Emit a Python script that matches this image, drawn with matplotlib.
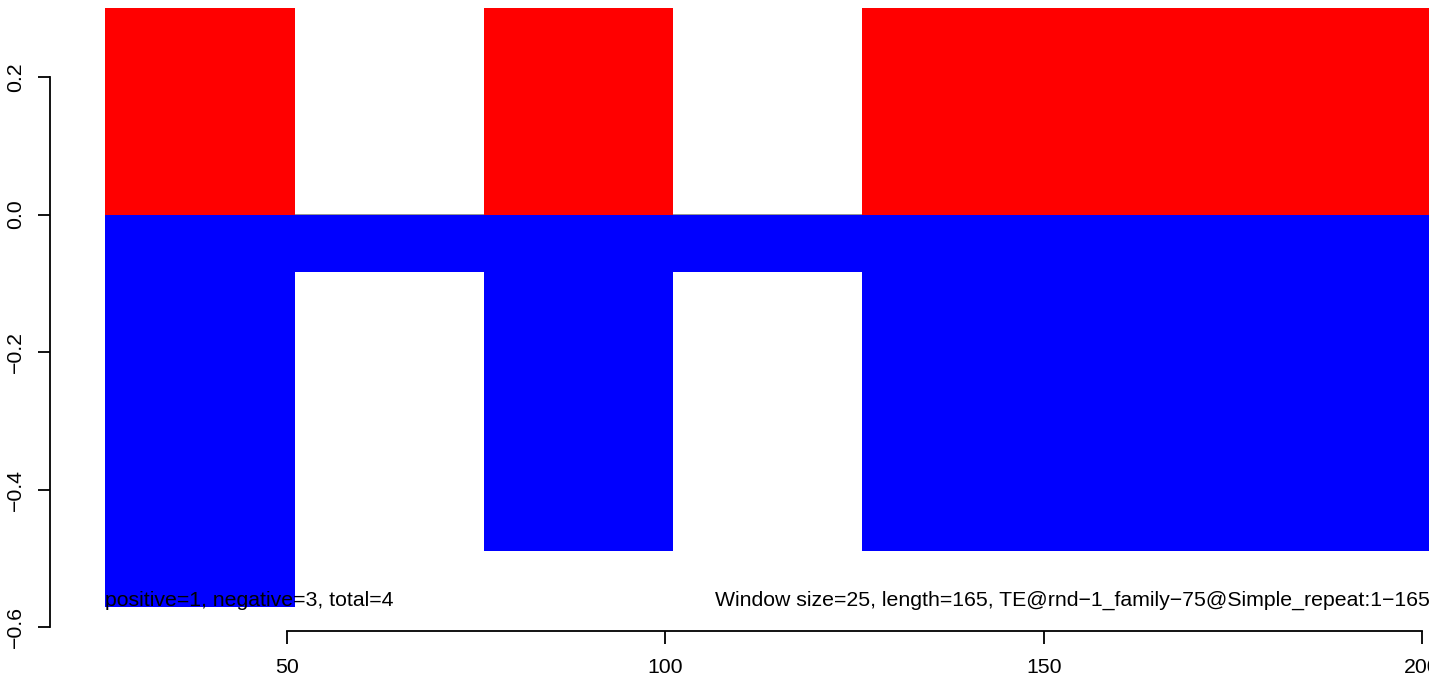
import matplotlib
matplotlib.use("Agg")
import matplotlib.pyplot as plt

plt.rcParams['font.family'] = ['Liberation Sans', 'DejaVu Sans']

# window starts (bp), width of each window
win_start = [26, 51, 76, 101, 126, 151, 176]
win_size = 25
pos_vals = [0.3, 0.0, 0.3, 0.0, 0.3, 0.3, 0.3]
neg_vals = [-0.57, -0.083, -0.489, -0.083, -0.489, -0.489, -0.489]

x_ticks = [50, 100, 150, 200]
y_ticks = [-0.6, -0.4, -0.2, 0.0, 0.2]

left_txt = "positive=1, negative=3, total=4"
right_txt = "Window size=25, length=165, TE@rnd\u22121_family\u221275@Simple_repeat:1\u2212165"

fig = plt.figure(figsize=(14.29, 6.76), dpi=100)
ax = fig.add_axes([0, 0, 1, 1])
ax.set_xlim(12.07, 200.93)
ax.set_ylim(-0.671, 0.312)

ax.hlines(0, win_start[0], win_start[-1] + win_size, color='gray', lw=1.2, zorder=1)
ax.bar(win_start, pos_vals, width=win_size, align='edge', color='red', lw=0, zorder=2)
ax.bar(win_start, neg_vals, width=win_size, align='edge', color='blue', lw=0, zorder=2)

ax.text(26, -0.569, left_txt, fontsize=15.3, ha='left', va='baseline', zorder=3)
ax.text(201, -0.569, right_txt, fontsize=15.3, ha='right', va='baseline', zorder=3)

for s in ['top', 'right']:
    ax.spines[s].set_visible(False)
ax.spines['left'].set_position(('data', 18.68))
ax.spines['left'].set_bounds(-0.6, 0.2)
ax.spines['bottom'].set_position(('data', -0.605))
ax.spines['bottom'].set_bounds(50, 200)
for s in ['left', 'bottom']:
    ax.spines[s].set_linewidth(1.3)

ax.set_xticks(x_ticks)
ax.set_yticks(y_ticks)
ax.set_yticklabels([f"{v:.1f}".replace('-', '\u2212') for v in y_ticks])
ax.tick_params(axis='both', length=9, width=1.3, labelsize=15.3)
ax.tick_params(axis='x', pad=11)
ax.tick_params(axis='y', pad=9)
for lab in ax.get_yticklabels():
    lab.set_rotation(90)
    lab.set_va('center')
    lab.set_ha('right')

fig.savefig("out.png", dpi=100)
